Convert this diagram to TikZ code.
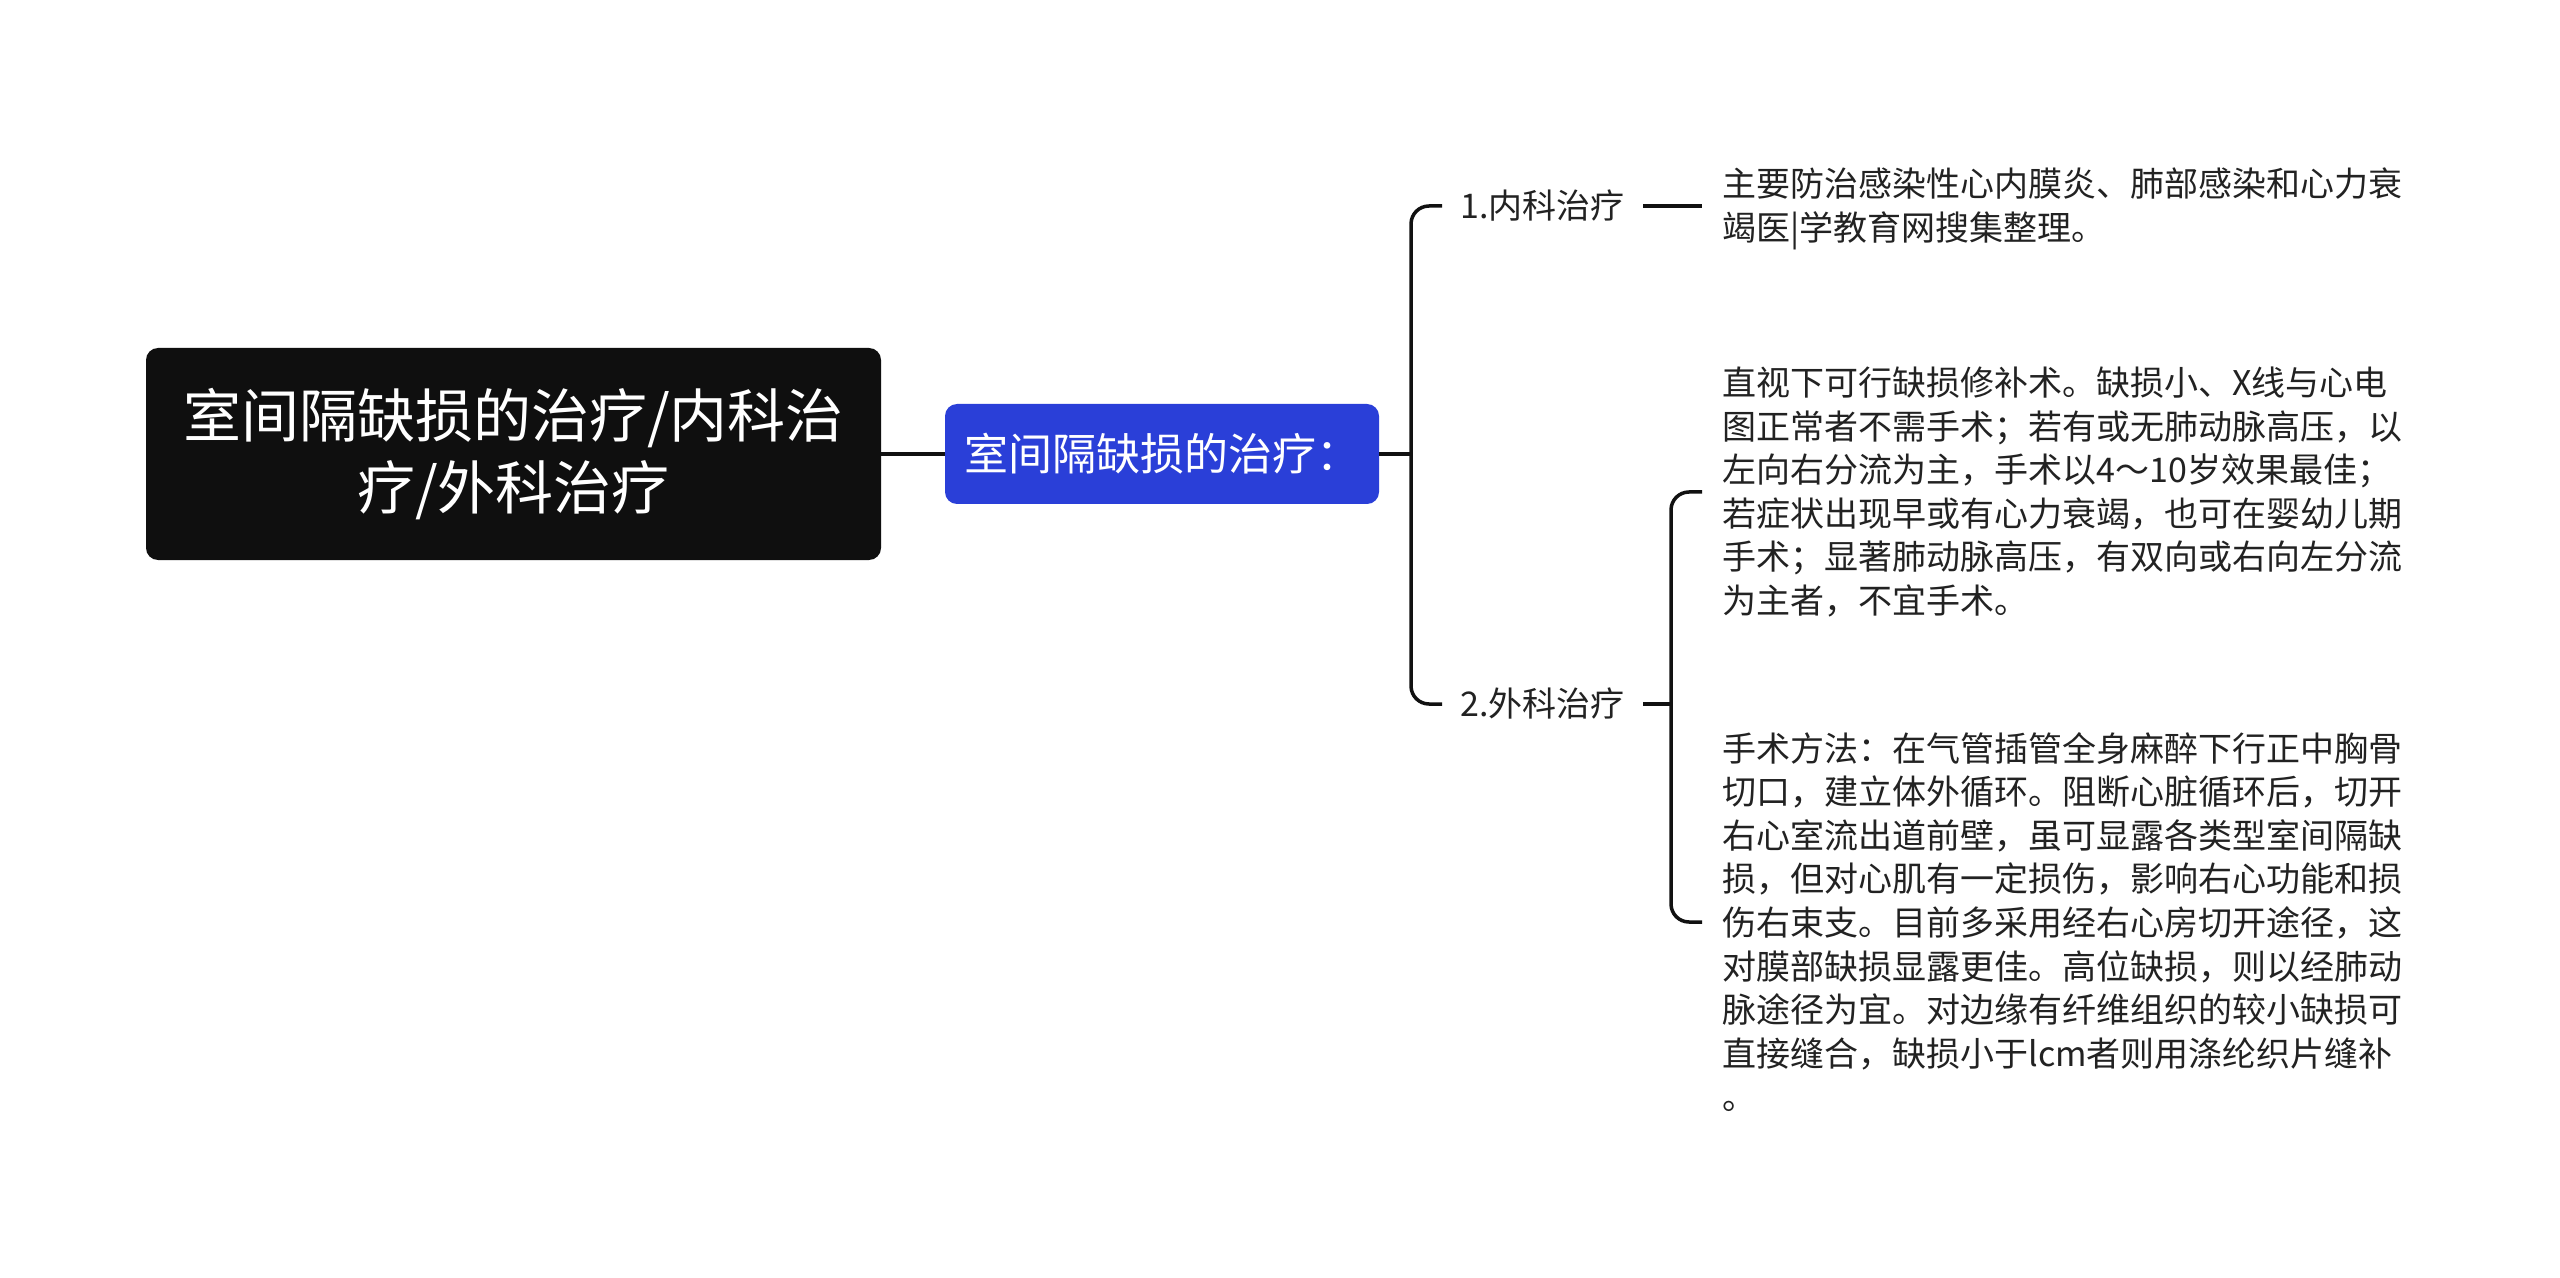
\documentclass[tikz,border=0pt]{standalone}
\usepackage{fontspec}
\setmainfont{Noto Sans CJK SC}
\definecolor{MMdark}{HTML}{0F0F0F}
\definecolor{MMblue}{HTML}{2A3FD8}
\definecolor{MMline}{HTML}{111111}
\definecolor{MMtext}{HTML}{222222}
\usetikzlibrary{positioning}

\tikzset{
  rootbox/.style={fill=MMdark, text=white, rounded corners=6pt, minimum width=367.5pt,
    minimum height=106pt, align=center, font=\fontsize{29pt}{36pt}\selectfont},
  topicbox/.style={fill=MMblue, text=white, rounded corners=6pt, minimum width=217pt,
    minimum height=50pt, font=\fontsize{22pt}{26pt}\selectfont},
  branchlabel/.style={anchor=west, inner xsep=9pt, text=MMtext, font=\fontsize{17pt}{21pt}\selectfont},
  leaftext/.style={anchor=west, inner xsep=10pt, align=left, text=MMtext,
    font=\fontsize{17pt}{21.8pt}\selectfont},
  branch/.style={draw=MMline, line width=1.75pt},
}

\begin{document}
\begin{tikzpicture}[x=0.5pt, y=-0.5pt]
            % Page
            \path[fill=white, use as bounding box] (0,0) rectangle (2560,1278);
            % Root and topic
            \node[rootbox] (root) at (513.5,454) {室间隔缺损的治疗/内科治\\疗/外科治疗};
            \node[topicbox] (topic) at (1162,454) {室间隔缺损的治疗：};
            \coordinate (jA) at (1411,454);
            % Branches
            \node[branchlabel] (lbl1) at (1442,206) {1.内科治疗};
            \node[branchlabel] (lbl2) at (1442,704) {2.外科治疗};
            \coordinate (jB) at (1671,704);
            % Leaf texts
            \node[leaftext] (txt1) at (1702,209) {主要防治感染性心内膜炎、肺部感染和心力衰\\
               竭医|学教育网搜集整理。};
            \node[leaftext] (txt2) at (1702,492) {直视下可行缺损修补术。缺损小、X线与心电\\
               图正常者不需手术；若有或无肺动脉高压，以\\
               左向右分流为主，手术以4～10岁效果最佳；\\
               若症状出现早或有心力衰竭，也可在婴幼儿期\\
               手术；显著肺动脉高压，有双向或右向左分流\\
               为主者，不宜手术。};
            \node[leaftext] (txt3) at (1702,922) {手术方法：在气管插管全身麻醉下行正中胸骨\\
               切口，建立体外循环。阻断心脏循环后，切开\\
               右心室流出道前壁，虽可显露各类型室间隔缺\\
               损，但对心肌有一定损伤，影响右心功能和损\\
               伤右束支。目前多采用经右心房切开途径，这\\
               对膜部缺损显露更佳。高位缺损，则以经肺动\\
               脉途径为宜。对边缘有纤维组织的较小缺损可\\
               直接缝合，缺损小于lcm者则用涤纶织片缝补\\
               。};
            % Connectors
            \draw[branch] (root.east) -- (topic.west);
            \draw[branch] (topic.east) -- (jA);
            \draw[branch, rounded corners=9pt] (lbl1.west) -| (jA) |- (lbl2.west);
            \draw[branch] (lbl1.east) -- (lbl1.east -| txt1.west);
            \draw[branch] (lbl2.east) -- (jB);
            \draw[branch, rounded corners=9pt] (txt2.west) -| (jB) |- (txt3.west);
\end{tikzpicture}
\end{document}
